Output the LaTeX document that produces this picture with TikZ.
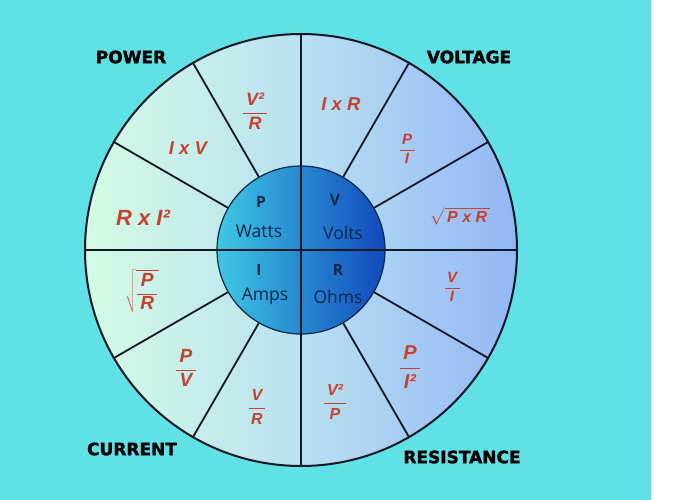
\documentclass[tikz,border=0pt]{standalone}
\usepackage{fontspec}
\setmainfont{Liberation Sans}
\newfontfamily\innerfont{Open Sans}
\newfontfamily\titlefont{DejaVu Sans Bold}[FakeBold=1.6]
\definecolor{bgc}{RGB}{95,225,230}
\definecolor{ringl}{RGB}{212,251,228}
\definecolor{ringm}{RGB}{185,225,240}
\definecolor{ringr}{RGB}{148,182,246}
\definecolor{innl}{RGB}{62,200,228}
\definecolor{innr}{RGB}{18,72,188}
\definecolor{linec}{RGB}{14,24,38}
\definecolor{navyc}{RGB}{12,40,75}
\definecolor{fcol}{RGB}{196,66,46}
\newcommand\fr[2]{$\displaystyle\frac{\hbox{\,#1\,}}{\hbox{\,#2\,}}$}
\newcommand\fsize[1]{\fontsize{#1}{#1}\selectfont}
\begin{document}
\begin{tikzpicture}[x=1pt,y=-1pt,
  spoke/.style={draw=linec, line width=1.8pt},
  formula/.style={text=fcol, font=\bfseries\itshape, inner sep=0pt},
  titletext/.style={text=black, font=\titlefont\fsize{17}, inner sep=0pt},
  letter/.style={text=navyc, font=\innerfont\bfseries\fsize{15.5}, inner sep=0pt},
  unit/.style={text=navyc, font=\innerfont\fsize{17.5}, inner sep=0pt}]
\useasboundingbox (0,0) rectangle (675,500);
\fill[white] (0,0) rectangle (675,500);
\fill[bgc] (0,0) rectangle (651,500);
\coordinate (c) at (301,250);
\node[circle, minimum size=432pt, inner sep=0pt, line width=2pt, draw=linec,
  left color=ringl, right color=ringr, middle color=ringm] (outer) at (c) {};
\node[circle, minimum size=168pt, inner sep=0pt, draw=navyc, line width=1.2pt,
  left color=innl, right color=innr] (inner) at (c) {};
\foreach \a in {30,60,120,150,210,240,300,330}
  \draw[spoke] (inner.\a) -- (outer.\a);
\draw[spoke] (outer.0) -- (outer.180);
\draw[spoke] (outer.90) -- (outer.270);
% titles
\node[titletext] (tpower) at (131,57) {POWER};
\node[titletext] (tvolt) at (469,57) {VOLTAGE};
\node[titletext] (tcurr) at (132,449) {CURRENT};
\node[titletext] (tres) at (462,457) {RESISTANCE};
% inner circle
\node[letter] (lp) at (261,202) {P};
\node[unit] (uw) at (259,231) {Watts};
\node[letter] (lv) at (335,200) {V};
\node[unit] (uv) at (343,233) {Volts};
\node[letter] (li) at (259,270) {I};
\node[unit] (ua) at (265,296) {Amps};
\node[letter] (lr) at (338,270) {R};
\node[unit] (uo) at (338,297) {Ohms};
% power formulas
\node[formula, font=\bfseries\itshape\fsize{18}] (p1) at (255,111) {\fr{V²}{R}};
\node[formula, font=\bfseries\itshape\fsize{18.5}] (p2) at (188,148) {I x V};
\node[formula, font=\bfseries\itshape\fsize{22}] (p3) at (143,218) {R x I²};
% voltage formulas
\node[formula, font=\bfseries\itshape\fsize{18.5}] (v1) at (341,104) {I x R};
\node[formula, font=\bfseries\itshape\fsize{15}] (v2) at (407,149) {\fr{P}{I}};
\node[formula, font=\bfseries\itshape\fsize{16}] (v3) at (460,216) {$\sqrt{\hbox{\,P x R\,}}$};
% current formulas
\node[formula, font=\bfseries\itshape\fsize{19}] (c1) at (142,291) {$\sqrt{\displaystyle\frac{\hbox{\,P\,}}{\hbox{\,R\,}}}$};
\node[formula, font=\bfseries\itshape\fsize{19}] (c2) at (186,368) {\fr{P}{V}};
\node[formula, font=\bfseries\itshape\fsize{16}] (c3) at (257,407) {\fr{V}{R}};
% resistance formulas
\node[formula, font=\bfseries\itshape\fsize{15}] (r1) at (452,287) {\fr{V}{I}};
\node[formula, font=\bfseries\itshape\fsize{20}] (r2) at (410,367) {\fr{P}{I²}};
\node[formula, font=\bfseries\itshape\fsize{16}] (r3) at (335,402) {\fr{V²}{P}};
\end{tikzpicture}
\end{document}
